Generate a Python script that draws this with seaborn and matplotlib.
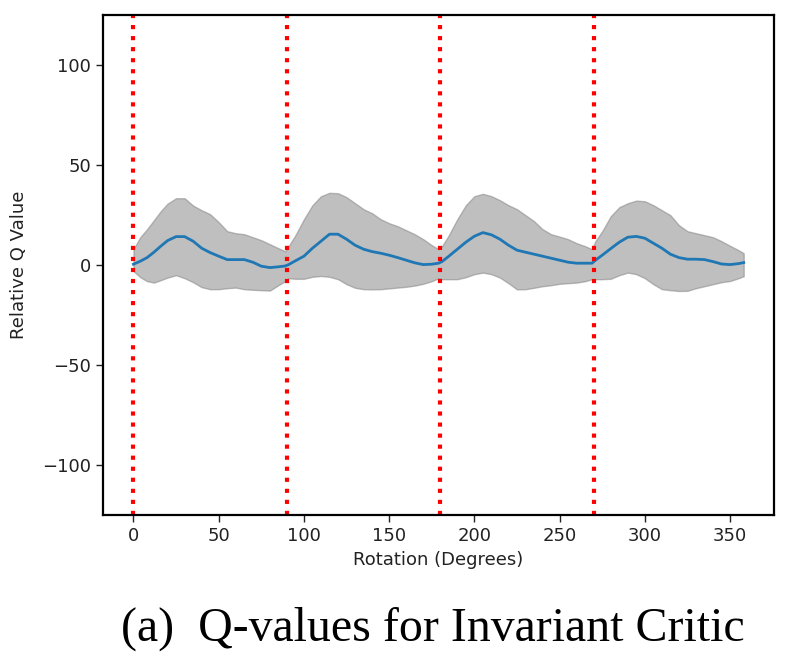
import numpy as np
import pandas as pd
import matplotlib
matplotlib.use("Agg")
import matplotlib.pyplot as plt
import seaborn as sns

rotation = [0, 4, 8, 12, 16, 20, 25, 30, 35, 40, 45, 50, 55, 60, 65, 70, 75, 80, 85, 89,
            91, 95, 100, 105, 110, 115, 120, 125, 130, 135, 140, 145, 150, 155, 160, 165, 170, 175, 179,
            181, 185, 190, 195, 200, 205, 210, 215, 220, 225, 230, 235, 240, 245, 250, 255, 260, 265, 269,
            271, 275, 280, 285, 290, 295, 300, 305, 310, 315, 320, 325, 330, 335, 340, 345, 350, 355, 358]

q_mean = [0.5, 2, 3.8, 6.5, 9.5, 12.3, 14.3, 14.3, 12, 8.5, 6.3, 4.5, 2.8, 2.8, 2.8, 1.5, -0.5, -1.2, -0.8, -0.4,
          0.3, 2.2, 4.5, 8.5, 12, 15.5, 15.5, 13, 10, 8, 6.8, 6, 5, 3.8, 2.5, 1.2, 0.3, 0.5, 1,
          1.8, 4.5, 8, 11.5, 14.5, 16.3, 15.2, 13, 10, 7.5, 6.5, 5.5, 4.5, 3.5, 2.5, 1.5, 1, 1, 1,
          2.5, 5, 8.3, 11.5, 14, 14.4, 13.5, 11, 8.5, 5.5, 3.8, 3, 3, 2.8, 1.8, 0.6, 0.3, 0.8, 1.3]

q_upper = [8, 14, 18, 22.5, 27, 30.8, 33.5, 33.5, 29.8, 27.5, 25.5, 21.5, 17, 16, 15.5, 14, 12.5, 10.5, 8.5, 7,
           9.5, 15, 23, 30, 34.5, 36.2, 36, 34, 31, 28, 26, 23, 21, 19.5, 17.5, 15.5, 13, 10, 8,
           9.5, 15, 23, 30, 34.5, 35.7, 34.5, 32.5, 30, 28, 25, 22, 18, 15.5, 14.3, 13, 11, 9.5, 8,
           12, 17, 24.5, 29, 31, 32.3, 32, 30, 27.5, 25, 20, 17, 16, 15, 14, 12, 9.7, 7.5, 6]

q_lower = [-3, -6, -8, -8.7, -7.5, -6.2, -5, -6.5, -8.5, -11, -12, -12, -11.5, -11.2, -12, -12.3, -12.5, -12.7, -10, -8,
           -6.5, -6.8, -6.8, -5.8, -5.4, -5.8, -7, -9.5, -11.3, -12, -12.1, -12, -11.6, -11.2, -10.8, -10.2, -9.3, -8, -6.5,
           -7, -7, -7, -6, -4.5, -3.7, -4.5, -6.2, -9, -12.1, -12, -11.3, -10.5, -10, -9.3, -9, -8.7, -8, -7,
           -7, -7, -6.8, -5, -3.7, -4.5, -6.5, -9.5, -12, -12.5, -12.9, -12.8, -11.5, -10.5, -9.5, -8.5, -7.9, -6.5, -5.5]

symmetry_angles = [0, 90, 180, 270]
x_ticks = [0, 50, 100, 150, 200, 250, 300, 350]
y_ticks = [-100, -50, 0, 50, 100]

df = pd.DataFrame({"Rotation": rotation, "Q": q_mean, "lo": q_lower, "hi": q_upper})

fig = plt.figure(figsize=(7.86, 6.63), dpi=100)
ax = fig.add_axes([0.131, 0.223, 0.854, 0.754])

ax.fill_between(df["Rotation"], df["lo"], df["hi"], color="gray", alpha=0.5, linewidth=1)
sns.lineplot(data=df, x="Rotation", y="Q", ax=ax, color="#1f77b4", linewidth=2)
for a in symmetry_angles:
    ax.axvline(a, color="red", linestyle=":", linewidth=3)

ax.set_xlim(-17.9, 375.9)
ax.set_ylim(-125, 125)
ax.set_xticks(x_ticks)
ax.set_yticks(y_ticks)
ax.tick_params(labelsize=13, length=5, width=1, colors="#222222")
for s in ax.spines.values():
    s.set_linewidth(1.6)
    s.set_color("black")
ax.set_xlabel("Rotation (Degrees)", fontsize=13, color="#222222", labelpad=4)
ax.set_ylabel("Relative Q Value", fontsize=13, color="#222222", labelpad=10)

fig.text(0.551, 0.051, "(a)  Q-values for Invariant Critic", family="Liberation Serif",
         fontsize=34.5, ha="center", va="center")

fig.savefig("out.png", dpi=100)
